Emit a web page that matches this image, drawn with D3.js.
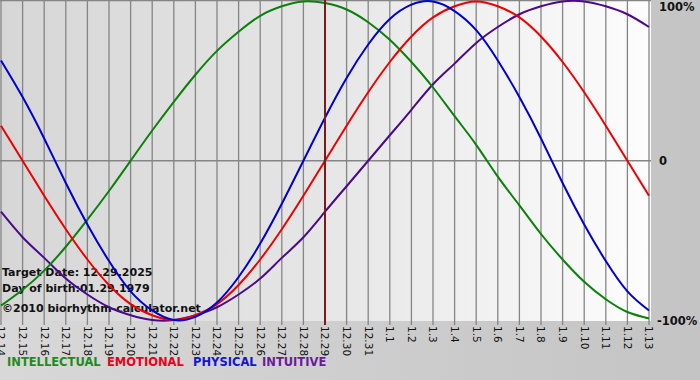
<!DOCTYPE html>
<html><head><meta charset="utf-8">
<script src="https://cdn.jsdelivr.net/npm/d3@7"></script>
<style>body{margin:0;background:#fff}svg{display:block}</style>
</head><body>
<svg id="c" width="700" height="380"></svg>
<script>
const dayLabels = ["12.14","12.15","12.16","12.17","12.18","12.19","12.20","12.21","12.22","12.23","12.24","12.25","12.26","12.27","12.28","12.29","12.30","12.31","1.1","1.2","1.3","1.4","1.5","1.6","1.7","1.8","1.9","1.10","1.11","1.12","1.13"];
const physical = [0.63,0.40,0.14,-0.14,-0.40,-0.63,-0.82,-0.94,-1.00,-0.98,-0.89,-0.73,-0.52,-0.27,0,0.27,0.52,0.73,0.89,0.98,1.00,0.94,0.82,0.63,0.40,0.14,-0.14,-0.40,-0.63,-0.82,-0.94];
const emotional = [0.22,0,-0.22,-0.43,-0.62,-0.78,-0.90,-0.97,-1.00,-0.97,-0.90,-0.78,-0.62,-0.43,-0.22,0,0.22,0.43,0.62,0.78,0.90,0.97,1.00,0.97,0.90,0.78,0.62,0.43,0.22,0,-0.22];
const intellectual = [-0.91,-0.81,-0.69,-0.54,-0.37,-0.19,0,0.19,0.37,0.54,0.69,0.81,0.91,0.97,1.00,0.99,0.95,0.87,0.76,0.62,0.46,0.28,0.10,-0.10,-0.28,-0.46,-0.62,-0.76,-0.87,-0.95,-0.99];
const intuitive = [-0.32,-0.48,-0.61,-0.74,-0.84,-0.92,-0.97,-1.00,-1.00,-0.97,-0.92,-0.84,-0.74,-0.61,-0.48,-0.32,-0.16,0,0.16,0.32,0.48,0.61,0.74,0.84,0.92,0.97,1.00,1.00,0.97,0.92,0.84];
const targetLabel = "12.29";
const yTickLabels = ["100%","0","-100%"];
const yTickValues = [1,0,-1];
const legendNames = ["INTELLECTUAL","EMOTIONAL","PHYSICAL","INTUITIVE"];
const infoLines = ["Target Date: 12.29.2025","Day of birth:01.29.1979","©2010 biorhythm-calculator.net"];

const svg = d3.select("#c");
const defs = svg.append("defs");
const g1 = defs.append("linearGradient").attr("id","plotbg").attr("x1","0").attr("x2","1").attr("y1","0").attr("y2","0");
g1.append("stop").attr("offset","0").attr("stop-color","#d6d6d6");
g1.append("stop").attr("offset","0.5").attr("stop-color","#e6e6e6");
g1.append("stop").attr("offset","1").attr("stop-color","#fdfdfd");
const g2 = defs.append("linearGradient").attr("id","outbg").attr("x1","0").attr("x2","1").attr("y1","0").attr("y2","0");
g2.append("stop").attr("offset","0").attr("stop-color","#d8d8d8");
g2.append("stop").attr("offset","1").attr("stop-color","#c4c4c4");

const W = 700, H = 380;
const plotL = 0, plotR = 651, plotT = 0, plotB = 321;
svg.append("rect").attr("width",W).attr("height",H).attr("fill","url(#outbg)");
svg.append("rect").attr("x",plotL).attr("y",plotT).attr("width",plotR-plotL).attr("height",plotB-plotT).attr("fill","url(#plotbg)");

const x = d3.scalePoint().domain(dayLabels).range([1,649]);
const y = d3.scaleLinear().domain([-1,1]).range([320,1.5]);

// vertical grid lines + ticks
svg.append("g").selectAll("line").data(dayLabels).join("line")
  .attr("x1",d=>x(d)).attr("x2",d=>x(d)).attr("y1",plotT).attr("y2",325)
  .attr("stroke",d=>d===targetLabel?"none":"#858585").attr("stroke-width",1.3);
// top border and zero line
svg.append("line").attr("x1",plotL).attr("x2",plotR).attr("y1",0.5).attr("y2",0.5).attr("stroke","#858585").attr("stroke-width",1.3);
svg.append("line").attr("x1",plotL).attr("x2",plotR).attr("y1",y(0)).attr("y2",y(0)).attr("stroke","#858585").attr("stroke-width",1.3);

// x labels
svg.append("g").selectAll("text").data(dayLabels).join("text")
  .attr("transform",d=>`translate(${x(d)},326) rotate(90)`)
  .attr("dy","0.35em")
  .attr("font-family","DejaVu Sans, Verdana, sans-serif").attr("font-size","10.5px").attr("fill","#111")
  .text(d=>d);

// y labels
svg.append("g").selectAll("text").data(yTickValues).join("text")
  .attr("x",(d,i)=>i===2?657:659).attr("y",d=>d===1?7:(d===0?161:321)).attr("dy","0.35em")
  .attr("font-family","DejaVu Sans, Verdana, sans-serif").attr("font-size","11.5px").attr("font-weight","bold").attr("fill","#111")
  .text((d,i)=>yTickLabels[i]);

// info text
svg.append("g").selectAll("text").data(infoLines).join("text")
  .attr("x",2).attr("y",(d,i)=>[276,292,312][i])
  .attr("font-family","DejaVu Sans, Verdana, sans-serif").attr("font-size","11px").attr("font-weight","bold").attr("fill","#111")
  .text(d=>d);

// curves
const series = [
  {v:intuitive, c:"#4b0a8a"},
  {v:intellectual, c:"#0b800b"},
  {v:emotional, c:"#ee0000"},
  {v:physical, c:"#0000d0"}
];
const line = d3.line().x((d,i)=>x(dayLabels[i])).y(d=>y(d)).curve(d3.curveNatural);
svg.append("g").selectAll("path").data(series).join("path")
  .attr("d",d=>line(d.v)).attr("fill","none").attr("stroke",d=>d.c).attr("stroke-width",2);

// target date line
svg.append("line").attr("x1",x(targetLabel)).attr("x2",x(targetLabel)).attr("y1",plotT).attr("y2",325)
  .attr("stroke","#7a1a1a").attr("stroke-width",2);

// legend
const legColors = ["#1f8a1f","#e8001c","#1414d8","#6a1a9a"];
const legX = [7,107,193,262];
svg.append("g").selectAll("text").data(legendNames).join("text")
  .attr("x",(d,i)=>legX[i]).attr("y",366)
  .attr("font-family","DejaVu Sans, Verdana, sans-serif").attr("font-size","11.5px").attr("font-weight","bold")
  .attr("fill",(d,i)=>legColors[i]).text(d=>d);
</script>
</body></html>
